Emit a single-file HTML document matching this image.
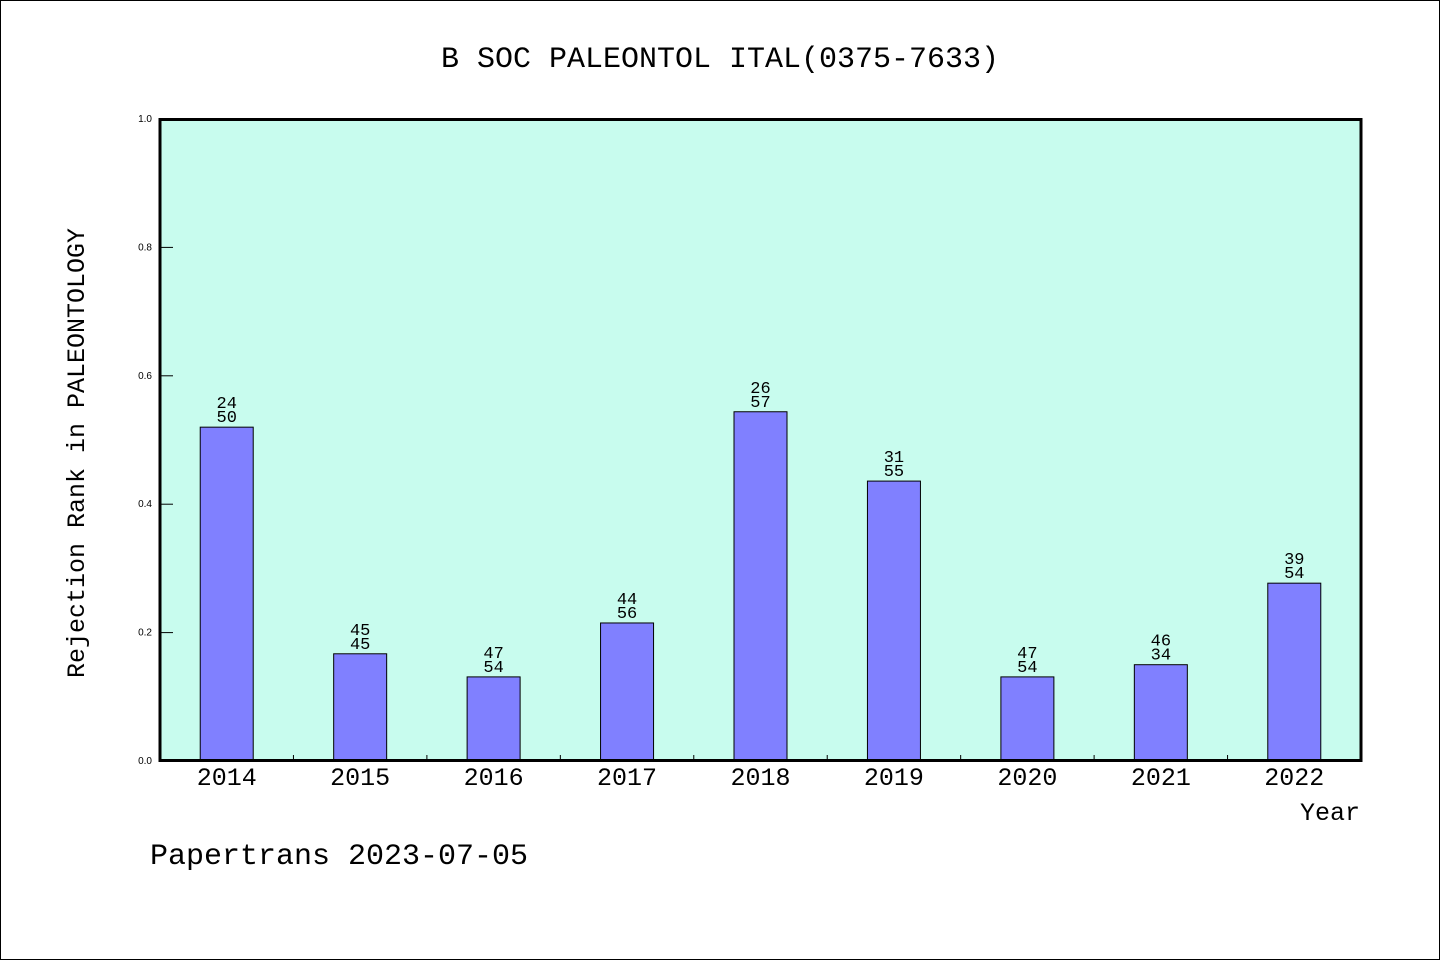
<!DOCTYPE html>
<html><head><meta charset="utf-8"><style>
html,body{margin:0;padding:0;background:#fff}
svg{display:block}
text{font-family:"Liberation Mono","WenQuanYi Zen Hei",monospace;fill:#000}
.tk{font-family:"Liberation Sans",sans-serif}
</style></head><body>
<svg id="chart" width="1440" height="960" xmlns="http://www.w3.org/2000/svg">
<rect x="0.5" y="0.5" width="1439" height="959" fill="#fff" stroke="#000"/>
<text x="720" y="67" font-size="30" text-anchor="middle">B SOC PALEONTOL ITAL(0375-7633)</text>
<rect x="160" y="119" width="1201" height="642" fill="#c8fcee"/>
<g id="bars"></g>
<g id="axes"></g>
<rect x="160" y="119.5" width="1201" height="641" fill="none" stroke="#000" stroke-width="3"/>
<text transform="translate(84,453) rotate(-90)" font-size="25" text-anchor="middle">Rejection Rank in PALEONTOLOGY</text>
<text x="1360" y="820" font-size="25" text-anchor="end">Year</text>
<text x="150" y="864" font-size="30">Papertrans 2023-07-05</text>
</svg>
<script>
const categories=["2014","2015","2016","2017","2018","2019","2020","2021","2022"];
const values=[0.520,0.167,0.131,0.215,0.544,0.436,0.131,0.150,0.277];
const rankLabels=["24","45","47","44","26","31","47","46","39"];
const totalLabels=["50","45","54","56","57","55","54","34","54"];
const yTicks=[0,0.2,0.4,0.6,0.8,1.0];
const NS="http://www.w3.org/2000/svg";
const x0=160,x1=1361,y0=761,y1=119;
const bw=(x1-x0)/categories.length;
const xs=i=>x0+bw*(i+0.5);
const ys=v=>y0-(y0-y1)*v;
function mk(tag,attrs,parent){const e=document.createElementNS(NS,tag);for(const k in attrs)e.setAttribute(k,attrs[k]);parent.appendChild(e);return e;}
const bars=document.getElementById('bars'),axes=document.getElementById('axes');
categories.forEach((c,i)=>{
 const cx=xs(i),top=ys(values[i]);
 const r=mk('rect',{x:cx-26.5,y:top,width:53,height:y0-top,fill:'#8080ff',stroke:'#000','stroke-width':1},bars);
 
 
 const t1=mk('text',{x:cx,y:top-19,'font-size':17,'text-anchor':'middle'},bars);t1.textContent=rankLabels[i];
 
 
 const t2=mk('text',{x:cx,y:top-5,'font-size':17,'text-anchor':'middle'},bars);t2.textContent=totalLabels[i];
 
 
 const xl=mk('text',{x:cx,y:785,'font-size':25,'text-anchor':'middle'},axes);xl.textContent=c;
 
 
 if(i>0){const tk=mk('line',{x1:x0+bw*i,x2:x0+bw*i,y1:y0,y2:y0-6,stroke:'#000'},axes);
 
 }
});
yTicks.forEach(v=>{
 const y=ys(v);
 const l=mk('line',{x1:160,x2:173,y1:y,y2:y,stroke:'#000'},axes);
 
 
 const t=mk('text',{x:152,y:y+3,'font-size':10,'text-anchor':'end','class':'tk'},axes);t.textContent=v.toFixed(1);
 
 
});
</script>
</body></html>
